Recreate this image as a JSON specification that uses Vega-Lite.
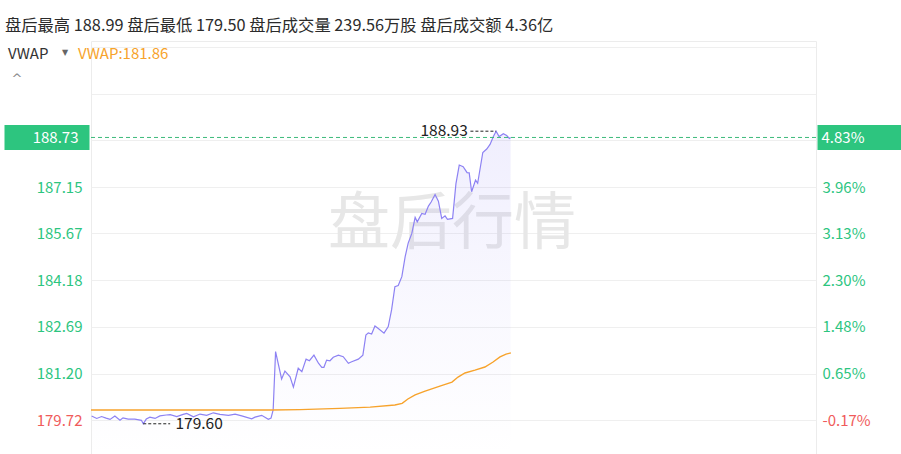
{
  "$schema": "https://vega.github.io/schema/vega-lite/v6.json",
  "width": 725,
  "height": 413,
  "autosize": {"type": "none"},
  "padding": {"left": 91, "top": 41, "right": 85, "bottom": 0},
  "background": "#ffffff",
  "config": {
    "view": {"stroke": "#ececec"},
    "font": "Noto Sans CJK SC",
    "axis": {"gridColor": "#efefef", "labelFont": "Noto Sans CJK SC", "labelFontSize": 15}
  },
  "title": {
    "text": "盘后最高 188.99 盘后最低 179.50 盘后成交量 239.56万股 盘后成交额 4.36亿",
    "anchor": "start",
    "frame": "group",
    "dx": -86,
    "offset": 6,
    "fontSize": 16.3,
    "fontWeight": "normal",
    "color": "#2b2b2b",
    "font": "Noto Sans CJK SC"
  },
  "datasets": {
    "price": [
      {"t": 0.2, "v": 179.85}, {"t": 1.9, "v": 179.77}, {"t": 3.5, "v": 179.83}, {"t": 5.0, "v": 179.78},
      {"t": 6.3, "v": 179.74}, {"t": 7.9, "v": 179.85}, {"t": 9.6, "v": 179.71}, {"t": 10.6, "v": 179.79},
      {"t": 12.3, "v": 179.75}, {"t": 14.5, "v": 179.75}, {"t": 16.7, "v": 179.71}, {"t": 17.3, "v": 179.60},
      {"t": 18.3, "v": 179.75}, {"t": 19.5, "v": 179.81}, {"t": 21.2, "v": 179.77}, {"t": 22.8, "v": 179.85},
      {"t": 24.9, "v": 179.88}, {"t": 26.2, "v": 179.89}, {"t": 28.4, "v": 179.83}, {"t": 30.5, "v": 179.90},
      {"t": 31.7, "v": 179.93}, {"t": 33.9, "v": 179.82}, {"t": 36.1, "v": 179.91}, {"t": 38.3, "v": 179.87},
      {"t": 40.5, "v": 179.95}, {"t": 42.7, "v": 179.90}, {"t": 45.5, "v": 179.87}, {"t": 47.7, "v": 179.91},
      {"t": 49.9, "v": 179.85}, {"t": 53.2, "v": 179.76}, {"t": 54.3, "v": 179.81}, {"t": 56.5, "v": 179.87},
      {"t": 58.7, "v": 179.74}, {"t": 59.6, "v": 179.78}, {"t": 60.3, "v": 180.04}, {"t": 61.1, "v": 181.90},
      {"t": 63.1, "v": 181.03}, {"t": 64.2, "v": 181.28}, {"t": 65.9, "v": 181.10}, {"t": 67.0, "v": 180.77},
      {"t": 68.6, "v": 181.37}, {"t": 69.8, "v": 181.26}, {"t": 71.2, "v": 181.66}, {"t": 72.3, "v": 181.61},
      {"t": 73.8, "v": 181.79}, {"t": 75.3, "v": 181.53}, {"t": 76.4, "v": 181.40}, {"t": 77.1, "v": 181.40},
      {"t": 78.0, "v": 181.63}, {"t": 79.1, "v": 181.61}, {"t": 80.2, "v": 181.72}, {"t": 81.9, "v": 181.79},
      {"t": 83.5, "v": 181.74}, {"t": 85.2, "v": 181.53}, {"t": 86.3, "v": 181.58}, {"t": 88.5, "v": 181.66},
      {"t": 90.0, "v": 181.79}, {"t": 91.0, "v": 182.43}, {"t": 91.8, "v": 182.50}, {"t": 92.9, "v": 182.46},
      {"t": 94.0, "v": 182.72}, {"t": 95.1, "v": 182.64}, {"t": 97.0, "v": 182.49}, {"t": 98.4, "v": 182.70},
      {"t": 99.5, "v": 183.23}, {"t": 100.6, "v": 183.97}, {"t": 101.7, "v": 184.01}, {"t": 102.9, "v": 184.29},
      {"t": 104.0, "v": 184.93}, {"t": 105.0, "v": 185.36}, {"t": 106.2, "v": 185.67}, {"t": 107.3, "v": 186.18},
      {"t": 108.0, "v": 186.04}, {"t": 109.5, "v": 186.31}, {"t": 110.6, "v": 186.28}, {"t": 111.7, "v": 186.54},
      {"t": 112.6, "v": 186.67}, {"t": 113.9, "v": 186.91}, {"t": 115.0, "v": 186.70}, {"t": 116.1, "v": 186.15},
      {"t": 117.2, "v": 186.23}, {"t": 118.0, "v": 186.12}, {"t": 119.7, "v": 186.15}, {"t": 120.8, "v": 187.25},
      {"t": 121.9, "v": 187.85}, {"t": 123.2, "v": 187.80}, {"t": 124.5, "v": 187.61}, {"t": 125.2, "v": 187.60},
      {"t": 126.0, "v": 187.00}, {"t": 127.3, "v": 187.37}, {"t": 128.0, "v": 187.27}, {"t": 129.7, "v": 188.25},
      {"t": 131.0, "v": 188.36}, {"t": 132.1, "v": 188.51}, {"t": 133.2, "v": 188.76}, {"t": 134.1, "v": 188.93},
      {"t": 135.1, "v": 188.76}, {"t": 136.5, "v": 188.85}, {"t": 137.6, "v": 188.79}, {"t": 138.5, "v": 188.70},
      {"t": 138.9, "v": 188.73}
    ],
    "vwap": [
      {"t": 0, "v": 180.04}, {"t": 59.9, "v": 180.04}, {"t": 69.2, "v": 180.05}, {"t": 82.4, "v": 180.09},
      {"t": 92.4, "v": 180.13}, {"t": 100.6, "v": 180.20}, {"t": 103.0, "v": 180.25}, {"t": 104.9, "v": 180.39},
      {"t": 107.3, "v": 180.52}, {"t": 110.6, "v": 180.64}, {"t": 115.5, "v": 180.80}, {"t": 119.5, "v": 180.93},
      {"t": 121.5, "v": 181.09}, {"t": 123.8, "v": 181.22}, {"t": 127.1, "v": 181.31}, {"t": 130.4, "v": 181.41},
      {"t": 133.1, "v": 181.57}, {"t": 135.4, "v": 181.73}, {"t": 137.4, "v": 181.82}, {"t": 139.0, "v": 181.86}
    ],
    "extremeRules": [
      {"t1": 125.6, "t2": 134.1, "v": 188.93},
      {"t1": 17.3, "t2": 26.2, "v": 179.60}
    ],
    "extremeLabels": [
      {"t": 116.9, "v": 188.93, "label": "188.93"},
      {"t": 35.8, "v": 179.60, "label": "179.60"}
    ],
    "watermark": [{"t": 119.5, "v": 185.94, "label": "盘后行情"}],
    "lastPrice": [{"v": 188.73}],
    "legend": [{"t": 0, "v": 191.806, "name": "VWAP", "arrow": "▼", "value": "VWAP:181.86", "caret": "^"}]
  },
  "resolve": {"axis": {"y": "independent"}},
  "layer": [
    {
      "data": {"name": "watermark"},
      "mark": {"type": "text", "fontSize": 62, "color": "#e7e7e7", "font": "Noto Sans CJK SC", "baseline": "middle", "align": "center"},
      "encoding": {
        "x": {"field": "t", "type": "quantitative", "scale": {"domain": [0, 240], "nice": false, "zero": false},
              "axis": {"values": [0, 60, 120, 180, 240], "labels": false, "ticks": false, "domain": false, "title": null, "grid": true, "gridColor": "#efefef"}},
        "y": {"field": "v", "type": "quantitative", "scale": {"domain": [178.636, 191.806], "nice": false, "zero": false},
              "axis": {"orient": "left", "values": [179.72, 181.2, 182.69, 184.18, 185.67, 187.15, 188.64, 190.12, 191.61],
                       "labelExpr": "datum.value > 188 ? '' : format(datum.value, '.2f')",
                       "labelColor": {"condition": {"test": "datum.value < 180", "value": "#f05b5b"}, "value": "#2dc57f"},
                       "labelFontSize": 15, "ticks": false, "tickSize": 0, "domain": false, "grid": true, "gridColor": "#efefef",
                       "labelPadding": 9, "title": null, "labelOverlap": false, "labelBound": false}},
        "text": {"field": "label"}
      }
    },
    {
      "data": {"name": "price"},
      "mark": {"type": "area", "line": false, "clip": true,
               "fill": {"gradient": "linear", "x1": 0, "y1": 0, "x2": 0, "y2": 1,
                        "stops": [{"offset": 0, "color": "rgba(140,128,245,0.13)"}, {"offset": 0.5, "color": "rgba(140,128,245,0.06)"}, {"offset": 1, "color": "rgba(140,128,245,0.0)"}]}},
      "encoding": {
        "x": {"field": "t", "type": "quantitative", "scale": {"domain": [0, 240], "nice": false, "zero": false}, "axis": null},
        "y": {"field": "v", "type": "quantitative", "scale": {"domain": [178.636, 191.806], "nice": false, "zero": false}, "axis": null},
        "y2": {"datum": 178.636}
      }
    },
    {
      "data": {"name": "price"},
      "mark": {"type": "line", "color": "#8d82f3", "strokeWidth": 1.2},
      "encoding": {
        "x": {"field": "t", "type": "quantitative", "scale": {"domain": [0, 240], "nice": false, "zero": false}, "axis": null},
        "y": {"field": "v", "type": "quantitative", "scale": {"domain": [178.636, 191.806], "nice": false, "zero": false}, "axis": null}
      }
    },
    {
      "data": {"name": "vwap"},
      "mark": {"type": "line", "color": "#f7a32c", "strokeWidth": 1.4},
      "encoding": {
        "x": {"field": "t", "type": "quantitative", "scale": {"domain": [0, 240], "nice": false, "zero": false}, "axis": null},
        "y": {"field": "v", "type": "quantitative", "scale": {"domain": [178.636, 191.806], "nice": false, "zero": false},
              "axis": {"orient": "right", "values": [179.72, 181.2, 182.69, 184.18, 185.67, 187.15],
                       "labelExpr": "datum.value < 180 ? '-0.17%' : datum.value < 182 ? '0.65%' : datum.value < 183 ? '1.48%' : datum.value < 185 ? '2.30%' : datum.value < 186 ? '3.13%' : '3.96%'",
                       "labelColor": {"condition": {"test": "datum.value < 180", "value": "#f05b5b"}, "value": "#2dc57f"},
                       "labelFontSize": 15, "ticks": false, "tickSize": 0, "domain": false, "grid": false,
                       "labelPadding": 6, "title": null, "labelOverlap": false, "labelBound": false}}
      }
    },
    {
      "data": {"name": "lastPrice"},
      "mark": {"type": "rule", "color": "#3dbb7b", "strokeDash": [4, 3], "strokeWidth": 1},
      "encoding": {
        "y": {"field": "v", "type": "quantitative", "scale": {"domain": [178.636, 191.806], "nice": false, "zero": false},
              "axis": {"orient": "left", "values": [188.73], "format": ".2f", "grid": false, "domain": false, "ticks": true,
                       "tickSize": 85, "tickWidth": 25, "tickColor": "#2dc57f", "offset": 2,
                       "labelColor": "#ffffff", "labelPadding": -74, "labelFontSize": 15, "title": null, "labelBound": false}}
      }
    },
    {
      "data": {"name": "extremeRules"},
      "mark": {"type": "rule", "color": "#222222", "strokeDash": [3, 2], "strokeWidth": 1},
      "encoding": {
        "x": {"field": "t1", "type": "quantitative", "scale": {"domain": [0, 240], "nice": false, "zero": false}, "axis": null},
        "x2": {"field": "t2"},
        "y": {"field": "v", "type": "quantitative", "scale": {"domain": [178.636, 191.806], "nice": false, "zero": false}, "axis": null}
      }
    },
    {
      "data": {"name": "extremeLabels"},
      "mark": {"type": "text", "fontSize": 15.5, "color": "#222222", "align": "center", "baseline": "middle", "font": "Noto Sans CJK SC"},
      "encoding": {
        "x": {"field": "t", "type": "quantitative", "scale": {"domain": [0, 240], "nice": false, "zero": false}, "axis": null},
        "y": {"field": "v", "type": "quantitative", "scale": {"domain": [178.636, 191.806], "nice": false, "zero": false},
              "axis": {"orient": "right", "values": [188.73], "labelExpr": "'4.83%'", "grid": false, "domain": false, "ticks": true,
                       "tickSize": 84, "tickWidth": 25, "tickColor": "#2dc57f", "offset": 1,
                       "labelColor": "#ffffff", "labelPadding": -80, "labelFontSize": 15, "title": null, "labelBound": false}},
        "text": {"field": "label"}
      }
    },
    {
      "data": {"name": "legend"},
      "mark": {"type": "text", "fontSize": 15, "color": "#333333", "align": "left", "baseline": "middle", "dx": -83, "dy": 13, "font": "Noto Sans CJK SC"},
      "encoding": {
        "x": {"field": "t", "type": "quantitative", "scale": {"domain": [0, 240], "nice": false, "zero": false}, "axis": null},
        "y": {"field": "v", "type": "quantitative", "scale": {"domain": [178.636, 191.806], "nice": false, "zero": false}, "axis": null},
        "text": {"field": "name"}
      }
    },
    {
      "data": {"name": "legend"},
      "mark": {"type": "text", "fontSize": 8, "color": "#666666", "align": "center", "baseline": "middle", "dx": -26, "dy": 12, "font": "DejaVu Sans"},
      "encoding": {
        "x": {"field": "t", "type": "quantitative", "scale": {"domain": [0, 240], "nice": false, "zero": false}, "axis": null},
        "y": {"field": "v", "type": "quantitative", "scale": {"domain": [178.636, 191.806], "nice": false, "zero": false}, "axis": null},
        "text": {"field": "arrow"}
      }
    },
    {
      "data": {"name": "legend"},
      "mark": {"type": "text", "fontSize": 15, "color": "#f7a32c", "align": "left", "baseline": "middle", "dx": -13, "dy": 13, "font": "Noto Sans CJK SC"},
      "encoding": {
        "x": {"field": "t", "type": "quantitative", "scale": {"domain": [0, 240], "nice": false, "zero": false}, "axis": null},
        "y": {"field": "v", "type": "quantitative", "scale": {"domain": [178.636, 191.806], "nice": false, "zero": false}, "axis": null},
        "text": {"field": "value"}
      }
    },
    {
      "data": {"name": "legend"},
      "mark": {"type": "text", "fontSize": 13, "color": "#888888", "align": "center", "baseline": "middle", "dx": -74, "dy": 38, "font": "DejaVu Sans"},
      "encoding": {
        "x": {"field": "t", "type": "quantitative", "scale": {"domain": [0, 240], "nice": false, "zero": false}, "axis": null},
        "y": {"field": "v", "type": "quantitative", "scale": {"domain": [178.636, 191.806], "nice": false, "zero": false}, "axis": null},
        "text": {"field": "caret"}
      }
    }
  ]
}
